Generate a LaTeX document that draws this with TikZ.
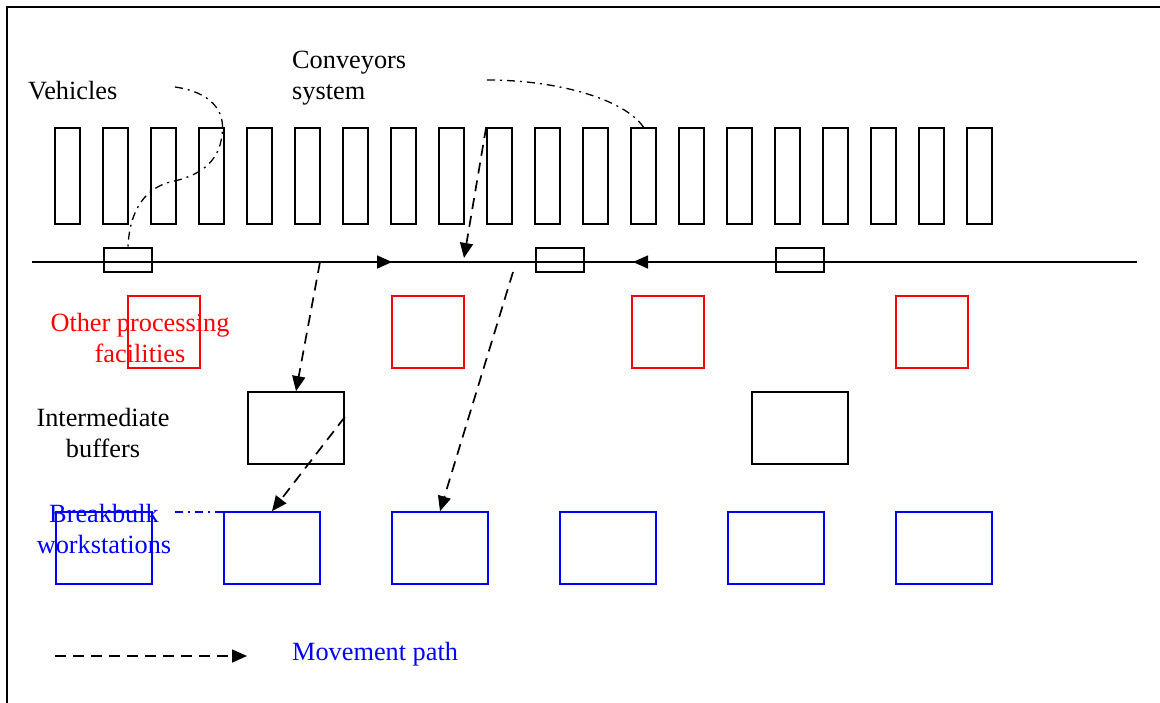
\documentclass[tikz,border=0pt]{standalone}
\usepackage{fontspec}
\setmainfont{Liberation Serif}
\usetikzlibrary{arrows.meta,calc}
\definecolor{procred}{RGB}{255,0,0}
\definecolor{wsblue}{RGB}{0,0,255}
\begin{document}
\begin{tikzpicture}[x=1pt,y=-1pt,
  every node/.style={font=\fontsize{26.3}{31}\selectfont},
  frame/.style={draw,line width=2pt},
  veh/.style={draw,line width=1.7pt,minimum width=25pt,minimum height=96pt,inner sep=0pt},
  shuttle/.style={draw,line width=1.7pt,minimum width=48pt,minimum height=24pt,inner sep=0pt},
  procbox/.style={draw=procred,line width=1.7pt,minimum width=72pt,minimum height=72pt,inner sep=0pt},
  bufbox/.style={draw,line width=1.7pt,minimum width=96pt,minimum height=72pt,inner sep=0pt},
  wsbox/.style={draw=wsblue,line width=1.7pt,minimum width=96pt,minimum height=72pt,inner sep=0pt},
  label/.style={inner sep=0pt},
  move/.style={line width=1.7pt,dash pattern=on 11pt off 7pt,
    -{Triangle[length=15pt,width=13pt]}},
  pointer/.style={line width=1.3pt,dash pattern=on 8pt off 5pt on 2pt off 5pt},
  track/.style={line width=1.7pt}]

\useasboundingbox (0,0) rectangle (1160,702);
\clip (0,0) rectangle (1160,702);

% outer frame (runs past the right and bottom edges)
\draw[frame] (7,7) rectangle (1185,730);

% vehicles at the docks
\foreach \i in {0,...,19}
  \node[veh] (v\i) at ({67.5+48*\i},176) {};

% conveyor track with shuttles
\coordinate (lineL) at (32,262);
\coordinate (lineR) at (1137,262);
\draw[track] (lineL) -- (lineR);
\node[shuttle] (s1) at (128,260) {};
\node[shuttle] (s2) at (560,260) {};
\node[shuttle] (s3) at (800,260) {};

% other processing facilities
\node[procbox] (p1) at (164,332) {};
\node[procbox] (p2) at (428,332) {};
\node[procbox] (p3) at (668,332) {};
\node[procbox] (p4) at (932,332) {};

% intermediate buffers
\node[bufbox] (b1) at (296,428) {};
\node[bufbox] (b2) at (800,428) {};

% breakbulk workstations
\node[wsbox] (w1) at (104,548) {};
\node[wsbox] (w2) at (272,548) {};
\node[wsbox] (w3) at (440,548) {};
\node[wsbox] (w4) at (608,548) {};
\node[wsbox] (w5) at (776,548) {};
\node[wsbox] (w6) at (944,548) {};

% labels (base anchor of a two-line label sits on its last line)
\node[label,anchor=base west] (tveh) at (28,99) {Vehicles};
\node[label,anchor=base west,align=left] (tconv) at (292,99) {Conveyors\\system};
\node[label,anchor=base,align=center,text=procred] (tproc) at (140,362) {Other processing\\facilities};
\node[label,anchor=base,align=center] (tbuf) at (103,457) {Intermediate\\buffers};
\node[label,anchor=base,align=center,text=wsblue] (tws) at (104,553) {Breakbulk\\workstations};
\node[label,anchor=base west,text=wsblue] (tmove) at (292,660) {Movement path};

% label pointers
\coordinate (vehP) at (175,87);
\draw[pointer] (vehP) .. controls (210,92) and (226,110) .. (222,135)
  .. controls (219,162) and (200,176) .. (170,182)
  .. controls (140,190) and (129,218) .. (s1.north);
\coordinate (convP) at (487,80);
\draw[pointer] (convP) .. controls (560,80) and (625,100) .. (v12.north);
\coordinate (wsP) at (175,512);
\coordinate (wsQ) at (248,512);
\draw[pointer,draw=wsblue] (wsP) -- (wsQ);

% movement paths
\coordinate (mA) at (320,262);
\coordinate (mB) at (392,262);
\draw[move] (mA) -- (mB);
\draw[move] (mA) -- (b1.north);
\coordinate (mC) at (464,258);
\draw[move] (v9.north west) -- (mC);
\coordinate (mD) at (703,262);
\coordinate (mE) at (633,262);
\draw[move] (mD) -- (mE);
\draw[move] ($(b1.north east)!0.35!(b1.south east)$) -- (w2.north);
\coordinate (mF) at (513,272);
\draw[move] (mF) -- (w3.north);

% legend
\coordinate (legA) at (55,656);
\coordinate (legB) at (247,656);
\draw[move] (legA) -- (legB);
\end{tikzpicture}
\end{document}
